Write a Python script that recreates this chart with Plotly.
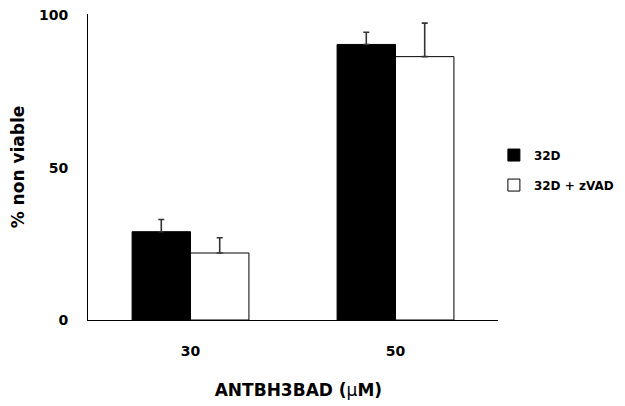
import plotly.graph_objects as go

categories = ["30", "50"]
series_names = ["32D", "32D + zVAD"]
values_32d = [29, 90.5]
errors_32d = [4, 4]
values_zvad = [22, 86.5]
errors_zvad = [5, 11]

font_family = "DejaVu Sans, sans-serif"

fig = go.Figure()
fig.add_trace(go.Bar(
    x=categories, y=values_32d, name=series_names[0], legendgroup="a",
    marker=dict(color="black", line=dict(color="black", width=1)),
    error_y=dict(type="data", array=errors_32d, arrayminus=[0, 0], symmetric=False,
                 color="#333333", thickness=1.6, width=3),
))
fig.add_trace(go.Bar(
    x=categories, y=values_zvad, name=series_names[1], legendgroup="b",
    marker=dict(color="white", line=dict(color="black", width=1)),
    error_y=dict(type="data", array=errors_zvad, arrayminus=[0, 0], symmetric=False,
                 color="#333333", thickness=1.6, width=3),
))

# page body has an 8px default margin, so the figure is sized to fit the window
fig.update_layout(
    width=617, height=398,
    margin=dict(l=80, r=122, t=6, b=86),
    paper_bgcolor="white", plot_bgcolor="white",
    barmode="group", bargap=0.43, bargroupgap=0,
    font=dict(family=font_family, color="black", size=14),
    showlegend=True,
    legend=dict(x=0.99, y=0.49, xanchor="left", yanchor="middle",
                traceorder="grouped", tracegroupgap=11,
                font=dict(size=12, family=font_family, weight="bold"),
                itemwidth=30, bgcolor="rgba(0,0,0,0)"),
    xaxis=dict(
        type="category", range=[-0.5, 1.5], automargin=False,
        showline=True, linecolor="black", linewidth=1,
        showgrid=False, ticks="", ticklabelstandoff=18,
        tickfont=dict(size=14, weight="bold"),
        title=dict(text="&nbsp;&nbsp;<b>ANTBH3BAD (</b>μ<b>M)</b>", font=dict(size=17), standoff=26),
    ),
    yaxis=dict(
        range=[0, 100.5], tickvals=[0, 50, 100], automargin=False,
        showline=True, linecolor="black", linewidth=1,
        showgrid=False, zeroline=False, ticks="", ticklabelstandoff=16,
        ticklabeloverflow="allow",
        tickfont=dict(size=14, weight="bold"),
        title=dict(text="<b>% non viable</b>", font=dict(size=17), standoff=16),
    ),
)

fig.write_html("out.html")
